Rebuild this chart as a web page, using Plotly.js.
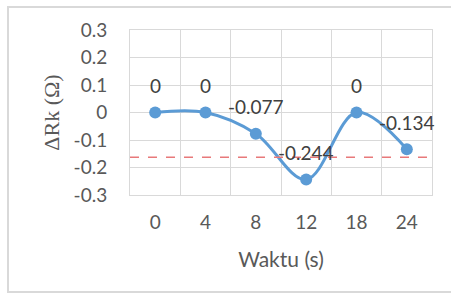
<!DOCTYPE html>
<html>
<head>
<meta charset="utf-8">
<script src="https://cdn.plot.ly/plotly-3.0.1.min.js"></script>
<style>
html,body{margin:0;padding:0;background:#fff;}
#frame{position:absolute;left:7px;top:6px;width:450px;height:287px;border:2px solid #d9d9d9;box-sizing:border-box;}
#chart{position:absolute;left:0;top:0;width:451px;height:299px;}
</style>
</head>
<body>
<div id="frame"></div>
<div id="chart"></div>
<script>
const categories = ["0", "4", "8", "12", "18", "24"];
const deltaRk = [0, 0, -0.077, -0.244, 0, -0.134];
const dataLabels = ["0", "0", "-0.077", "-0.244", "0", "-0.134"];
const threshold = -0.163;
const yTickVals = [-0.3, -0.2, -0.1, 0, 0.1, 0.2, 0.3];
const yTickText = ["-0.3", "-0.2", "-0.1", "0", "0.1", "0.2", "0.3"];

const fontFam = "Lato, 'Open Sans', sans-serif";
const grey = "#595959";

const traces = [{
  type: "scatter",
  mode: "lines+markers",
  x: categories,
  y: deltaRk,
  line: {color: "#5B9BD5", width: 3, shape: "spline", smoothing: 1},
  marker: {color: "#5B9BD5", size: 12},
  hoverinfo: "x+y",
  showlegend: false
}];

const annotations = categories.map((c, i) => ({
  x: i, y: deltaRk[i], xref: "x", yref: "y",
  text: dataLabels[i], showarrow: false,
  yshift: 27, font: {family: fontFam, size: 19, color: "#404040"}
}));

const layout = {
  width: 451, height: 299,
  margin: {l: 130, r: 19, t: 30, b: 104},
  paper_bgcolor: "rgba(0,0,0,0)",
  plot_bgcolor: "#fff",
  showlegend: false,
  xaxis: {
    type: "category",
    range: [-0.5, 5.5],
    tickson: "boundaries",
    ticks: "",
    showgrid: true, gridcolor: "#d9d9d9", gridwidth: 1,
    showline: true, linecolor: "#d9d9d9", mirror: true,
    zeroline: false,
    tickfont: {family: fontFam, size: 19, color: grey},
    ticklabelstandoff: 10,
    title: {text: "Waktu (s)", font: {family: fontFam, size: 21, color: grey}, standoff: 20}
  },
  yaxis: {
    range: [-0.3, 0.3],
    tickvals: yTickVals, ticktext: yTickText,
    ticks: "",
    showgrid: true, gridcolor: "#d9d9d9", gridwidth: 1,
    showline: true, linecolor: "#d9d9d9", mirror: true,
    zeroline: false,
    tickfont: {family: fontFam, size: 19, color: grey},
    ticklabelstandoff: 18,
    title: {text: "ΔRk (Ω)", font: {family: "'Liberation Serif', 'DejaVu Serif', serif", size: 22, color: grey}, standoff: 7}
  },
  shapes: [{
    type: "line", xref: "paper", yref: "y",
    x0: 0, x1: 1, y0: threshold, y1: threshold,
    line: {color: "#E8797A", width: 1.5, dash: "dash"}
  }],
  annotations: annotations
};

Plotly.newPlot("chart", traces, layout, {displayModeBar: false, staticPlot: true});
</script>
</body>
</html>
